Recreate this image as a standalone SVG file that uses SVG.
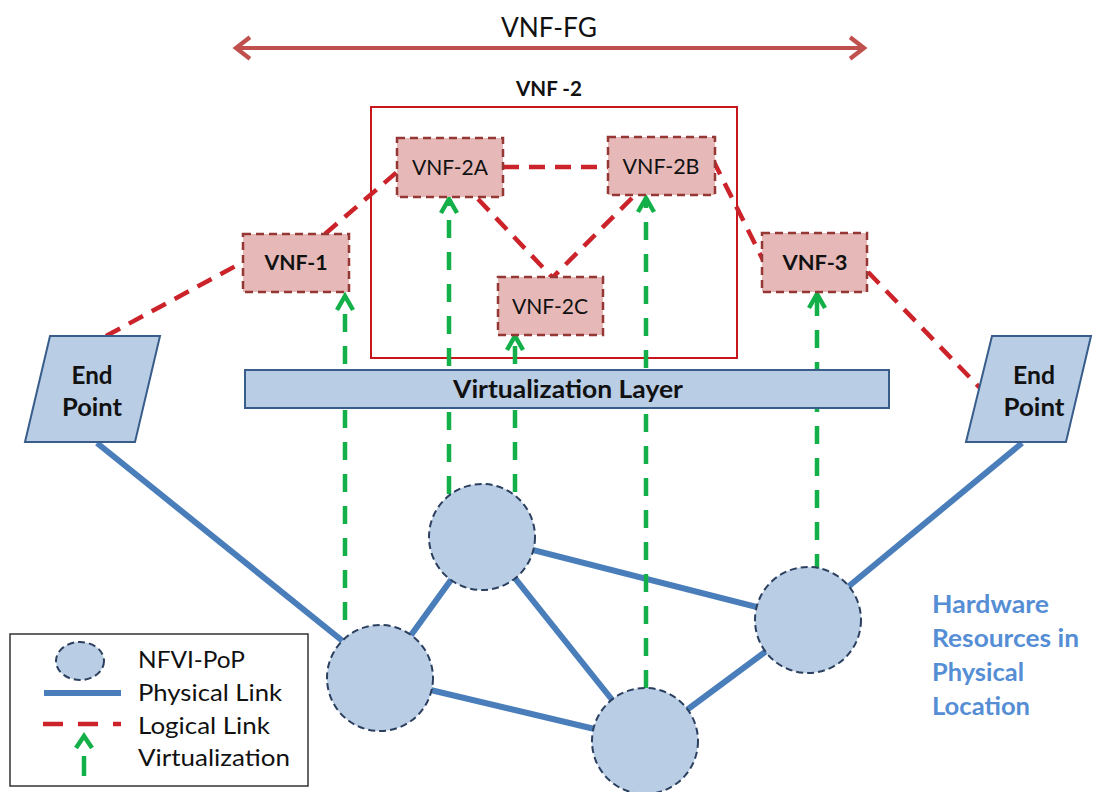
<svg xmlns="http://www.w3.org/2000/svg" width="1094" height="792" viewBox="0 0 1094 792">
  <style>
    text { font-family: Lato, "Liberation Sans", sans-serif; fill: #111; }
    .b { font-weight: bold; }
    .phys { stroke: #4a7ebb; stroke-width: 6; fill: none; }
    .logic { stroke: #cc2229; stroke-width: 4.5; stroke-dasharray: 16 10; fill: none; }
    .virt { stroke: #13b04a; stroke-width: 4.5; stroke-dasharray: 18 14; fill: none; }
    .pop { fill: #b9cde5; stroke: #2b3f5f; stroke-width: 2; stroke-dasharray: 7 4; }
    .vnf { fill: #e6b9b8; stroke: #953735; stroke-width: 2.5; stroke-dasharray: 8 5; }
    .blue { fill: #b9cde5; stroke: #385d8a; stroke-width: 2; }
    .lbl { font-size: 21px; text-anchor: middle; }
    .ep { font-size: 25px; font-weight: bold; text-anchor: middle; }
    .hw { font-size: 25px; font-weight: bold; }
    .hw text { fill: #558ed5; }
    .leg { font-size: 24px; }
  </style>
  <defs>
    <marker id="vhead" markerUnits="userSpaceOnUse" markerWidth="24" markerHeight="24" viewBox="-16 -12 20 24" refX="0" refY="0" orient="auto">
      <path d="M-14,-8 L0,0 L-14,8" fill="none" stroke="#13b04a" stroke-width="4.5"/>
    </marker>
    <marker id="fghead" markerUnits="userSpaceOnUse" markerWidth="24" markerHeight="30" viewBox="-16 -14 20 28" refX="0" refY="0" orient="auto-start-reverse">
      <path d="M-13,-10 L0,0 L-13,10" fill="none" stroke="#c0504d" stroke-width="4"/>
    </marker>
  </defs>

  <rect width="1094" height="792" fill="#ffffff"/>

  <!-- forwarding graph span -->
  <g id="vnf-fg">
    <line x1="236" y1="48" x2="864" y2="48" stroke="#c0504d" stroke-width="4" marker-start="url(#fghead)" marker-end="url(#fghead)"/>
    <text x="549" y="37" font-size="26" text-anchor="middle" textLength="96" lengthAdjust="spacingAndGlyphs">VNF-FG</text>
  </g>

  <!-- VNF-2 container -->
  <g id="vnf-2">
    <rect x="371" y="107" width="366" height="251" fill="none" stroke="#c8161d" stroke-width="2"/>
    <text x="549" y="96" class="b" font-size="21" text-anchor="middle" textLength="66" lengthAdjust="spacingAndGlyphs">VNF -2</text>
  </g>

  <g id="connectors">
    <!-- physical links -->
    <g id="physical-links">
      <line class="phys" x1="97" y1="443" x2="360" y2="655"/>
      <line class="phys" x1="380" y1="678" x2="482" y2="537"/>
      <line class="phys" x1="380" y1="678" x2="645" y2="741"/>
      <line class="phys" x1="482" y1="537" x2="645" y2="741"/>
      <line class="phys" x1="482" y1="537" x2="808" y2="620"/>
      <line class="phys" x1="645" y1="741" x2="808" y2="620"/>
      <line class="phys" x1="808" y1="620" x2="1022" y2="443"/>
    </g>
    <!-- virtualization mappings -->
    <g id="virtualization">
      <line class="virt" x1="345" y1="620" x2="345" y2="296" marker-end="url(#vhead)"/>
      <line class="virt" x1="449" y1="494" x2="449" y2="199" marker-end="url(#vhead)"/>
      <line class="virt" x1="515" y1="492" x2="515" y2="336" marker-end="url(#vhead)"/>
      <line class="virt" x1="646" y1="688" x2="646" y2="198" marker-end="url(#vhead)"/>
      <line class="virt" x1="817" y1="572" x2="817" y2="294" marker-end="url(#vhead)"/>
    </g>
    <!-- logical links -->
    <g id="logical-links">
      <line class="logic" x1="106" y1="336" x2="243" y2="262"/>
      <line class="logic" x1="325" y1="234" x2="397" y2="172"/>
      <line class="logic" x1="503" y1="167" x2="608" y2="167"/>
      <line class="logic" x1="478" y1="199" x2="552" y2="277"/>
      <line class="logic" x1="632" y1="198" x2="553" y2="277"/>
      <line class="logic" x1="713" y1="160" x2="764" y2="262"/>
      <line class="logic" x1="868" y1="272" x2="980" y2="388"/>
    </g>
  </g>

  <!-- NFVI points of presence -->
  <g id="pop-1"><circle class="pop" cx="380" cy="678" r="53"/></g>
  <g id="pop-2"><circle class="pop" cx="482" cy="537" r="53"/></g>
  <g id="pop-3"><circle class="pop" cx="645" cy="741" r="53"/></g>
  <g id="pop-4"><circle class="pop" cx="808" cy="620" r="53"/></g>

  <!-- virtualization layer -->
  <g id="virtualization-layer">
    <rect class="blue" x="245" y="370" width="644" height="38"/>
    <text x="568" y="398" class="b" font-size="24" text-anchor="middle" textLength="230" lengthAdjust="spacingAndGlyphs">Virtualization Layer</text>
  </g>

  <!-- end points -->
  <g id="endpoint-left">
    <polygon class="blue" points="50,336 160,336 135,442 25,442"/>
    <text x="92" y="384" class="ep" textLength="41" lengthAdjust="spacingAndGlyphs">End</text>
    <text x="92" y="416" class="ep" textLength="60" lengthAdjust="spacingAndGlyphs">Point</text>
  </g>
  <g id="endpoint-right">
    <polygon class="blue" points="992,336 1091,336 1066,442 966,442"/>
    <text x="1034" y="384" class="ep" textLength="42" lengthAdjust="spacingAndGlyphs">End</text>
    <text x="1034" y="416" class="ep" textLength="61" lengthAdjust="spacingAndGlyphs">Point</text>
  </g>

  <!-- VNF instances -->
  <g id="vnf-1">
    <rect class="vnf" x="243" y="234" width="106" height="58"/>
    <text x="296" y="270" class="lbl b" textLength="63" lengthAdjust="spacingAndGlyphs">VNF-1</text>
  </g>
  <g id="vnf-2a">
    <rect class="vnf" x="397" y="138" width="106" height="59"/>
    <text x="450" y="175" class="lbl" textLength="76" lengthAdjust="spacingAndGlyphs">VNF-2A</text>
  </g>
  <g id="vnf-2b">
    <rect class="vnf" x="608" y="137" width="107" height="58"/>
    <text x="661" y="174" class="lbl" textLength="77" lengthAdjust="spacingAndGlyphs">VNF-2B</text>
  </g>
  <g id="vnf-2c">
    <rect class="vnf" x="498" y="277" width="105" height="58"/>
    <text x="550" y="314" class="lbl" textLength="76" lengthAdjust="spacingAndGlyphs">VNF-2C</text>
  </g>
  <g id="vnf-3">
    <rect class="vnf" x="762" y="233" width="105" height="59"/>
    <text x="815" y="270" class="lbl b" textLength="65" lengthAdjust="spacingAndGlyphs">VNF-3</text>
  </g>

  <!-- side caption -->
  <g id="hardware-caption" class="hw">
    <text x="932" y="613" textLength="117" lengthAdjust="spacingAndGlyphs">Hardware</text>
    <text x="932" y="647" textLength="147" lengthAdjust="spacingAndGlyphs">Resources in</text>
    <text x="932" y="681" textLength="92" lengthAdjust="spacingAndGlyphs">Physical</text>
    <text x="932" y="715" textLength="98" lengthAdjust="spacingAndGlyphs">Location</text>
  </g>

  <!-- legend -->
  <g id="legend">
    <rect x="10" y="634" width="298" height="152" fill="#ffffff" stroke="#333333" stroke-width="1.5"/>
    <ellipse class="pop" cx="80" cy="661" rx="24" ry="19"/>
    <line x1="44" y1="693" x2="121" y2="693" stroke="#4a7ebb" stroke-width="6"/>
    <line x1="43" y1="724" x2="121" y2="724" stroke="#cc2229" stroke-width="4.5" stroke-dasharray="20 15"/>
    <path d="M76,748 L84,736 L92,748" fill="none" stroke="#13b04a" stroke-width="4.5"/>
    <line x1="84" y1="756" x2="84" y2="776" stroke="#13b04a" stroke-width="4.5"/>
    <text x="138" y="668" class="leg" textLength="107" lengthAdjust="spacingAndGlyphs">NFVI-PoP</text>
    <text x="138" y="701" class="leg" textLength="144" lengthAdjust="spacingAndGlyphs">Physical Link</text>
    <text x="138" y="734" class="leg" textLength="132" lengthAdjust="spacingAndGlyphs">Logical Link</text>
    <text x="138" y="766" class="leg" textLength="152" lengthAdjust="spacingAndGlyphs">Virtualization</text>
  </g>
</svg>
